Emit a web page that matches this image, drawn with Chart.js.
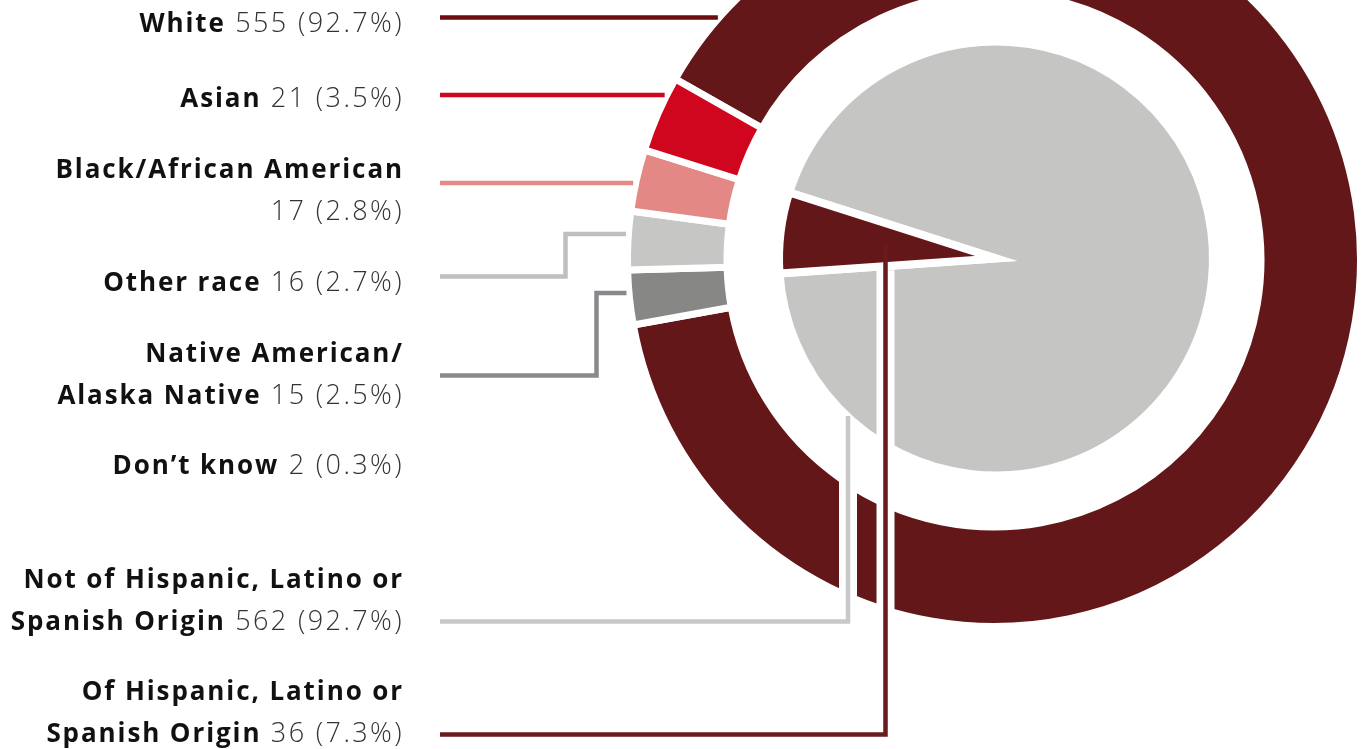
<!DOCTYPE html>
<html>
<head>
<meta charset="utf-8">
<title>Race and ethnicity</title>
<script src="https://cdn.jsdelivr.net/npm/chart.js"></script>
<style>
  body { margin: 0; background: #fff; overflow: hidden; }
  #wrap { position: relative; width: 1365px; height: 749px; }
  canvas { position: absolute; left: 0; top: 0; }
  .lbl {
    position: absolute;
    right: 961px;
    text-align: right;
    white-space: pre-line;
    font-family: "Open Sans", sans-serif;
    font-size: 27px;
    line-height: 41px;
    letter-spacing: 2.4px;
    font-weight: 300;
    color: #333;
  }
  .lbl b { font-size: 26px; font-weight: 700; color: #111; letter-spacing: 1.9px; }
</style>
</head>
<body>
<div id="wrap">
  <canvas id="ringChart" width="1365" height="749"></canvas>
  <canvas id="pieChart" width="1365" height="749"></canvas>
  <div id="labels"></div>
</div>
<script>
// race -> outer ring
const raceNames = ["White", "Asian", "Black/African American\n", "Other race", "Native American/\nAlaska Native", "Don\u2019t know"];
const raceCounts = [555, 21, 17, 16, 15, 2];
const racePct = ["92.7%", "3.5%", "2.8%", "2.7%", "2.5%", "0.3%"];
const raceColors = ["#631719", "#d0061f", "#e48886", "#c6c6c5", "#878786", "#ffffff"];
const raceLineColors = ["#6b0d11", "#d0061f", "#e58a88", "#bdbfc1", "#88898c", null];
// ring goes clockwise from White and comes back up the left side
const ringOrder = [0, 4, 3, 2, 1];

// ethnicity -> inner pie
const originNames = ["Not of Hispanic, Latino or\nSpanish Origin", "Of Hispanic, Latino or\nSpanish Origin"];
const originCounts = [562, 36];
const originPct = ["92.7%", "7.3%"];
const originColors = ["#c5c5c4", "#631719"];
const originLineColors = ["#c8c8c8", "#6b1a1d"];

// layout
const W = 1365, H = 749;
const RING_C = [994, 260], PIE_C = [996, 258.5];
const RING_BW = 7, PIE_BW = 8;
const LINE_X0 = 440, LINE_W = 4.5;
const raceTops = [1, 76, 147, 260, 331, 443];
const originTops = [557, 669];

function padFor(c) {
  return { left: 2 * c[0] - W, right: 0, top: 0, bottom: H - 2 * c[1] };
}

const labelsBox = document.getElementById('labels');
function addLabel(name, count, pct, top) {
  const d = document.createElement('div');
  d.className = 'lbl';
  d.style.top = top + 'px';
  const b = document.createElement('b');
  b.textContent = name.replace(/\n$/, '');
  d.appendChild(b);
  d.appendChild(document.createTextNode((name.endsWith('\n') ? '\n' : ' ') + count + ' (' + pct + ')'));
  labelsBox.appendChild(d);
}
raceNames.forEach((n, i) => addLabel(n, raceCounts[i], racePct[i], raceTops[i]));
originNames.forEach((n, i) => addLabel(n, originCounts[i], originPct[i], originTops[i]));

const ringChart = new Chart(document.getElementById('ringChart'), {
  type: 'doughnut',
  data: {
    labels: ringOrder.map(i => raceNames[i]),
    datasets: [{
      data: ringOrder.map(i => raceCounts[i]),
      backgroundColor: ringOrder.map(i => raceColors[i]),
      borderColor: '#ffffff',
      borderWidth: RING_BW,
      clip: false
    }]
  },
  options: {
    responsive: false,
    animation: false,
    events: [],
    rotation: -60.4,
    radius: 363 + RING_BW / 2,
    cutout: ((270.5 - RING_BW / 2) / (363 + RING_BW / 2) * 100) + '%',
    layout: { padding: padFor(RING_C) },
    plugins: { legend: { display: false }, tooltip: { enabled: false } }
  }
});

function ringEdgeX(arc, y, gap) {
  const r = arc.outerRadius - RING_BW / 2;
  return arc.x - Math.sqrt(r * r - (y - arc.y) * (y - arc.y)) - gap;
}

function strokePath(ctx, pts, color, width) {
  ctx.beginPath();
  ctx.moveTo(pts[0][0], pts[0][1]);
  for (let k = 1; k < pts.length; k++) ctx.lineTo(pts[k][0], pts[k][1]);
  ctx.strokeStyle = color;
  ctx.lineWidth = width;
  ctx.lineJoin = 'miter';
  ctx.lineCap = 'butt';
  ctx.stroke();
}

const leaderLines = {
  id: 'leaderLines',
  afterDatasetsDraw(chart) {
    const ctx = chart.ctx;
    const ringArcs = ringChart.getDatasetMeta(0).data;
    const arcOf = i => ringArcs[ringOrder.indexOf(i)];
    const pieArcs = chart.getDatasetMeta(0).data;
    ctx.save();

    // race lines: [race index, points before the ring]
    const race = [
      [0, [[LINE_X0, 17.5]]],
      [1, [[LINE_X0, 95]]],
      [2, [[LINE_X0, 183]]],
      [3, [[LINE_X0, 276.5], [565.5, 276.5], [565.5, 234]]],
      [4, [[LINE_X0, 375.5], [596.5, 375.5], [596.5, 293]]]
    ];
    race.forEach(([i, pts]) => {
      const y = pts[pts.length - 1][1];
      const end = [ringEdgeX(arcOf(i), y, 6), y];
      strokePath(ctx, pts.concat([end]), raceLineColors[i], LINE_W);
    });

    // ethnicity lines drop from the pie through the ring
    const notArc = pieArcs[0], hisArc = pieArcs[1];
    const pr = notArc.outerRadius - PIE_BW / 2;
    const xNot = 848, xHis = 885.5;
    const yNotEdge = notArc.y + Math.sqrt(pr * pr - (xNot + 9 - notArc.x) ** 2);
    const mid = (hisArc.startAngle + hisArc.endAngle) / 2;
    const yHisMid = hisArc.y + (xHis - hisArc.x) * Math.tan(mid);
    const yHisLow = hisArc.y + (xHis - hisArc.x) * Math.tan(hisArc.startAngle) + PIE_BW / 2;

    strokePath(ctx, [[xNot, yNotEdge], [xNot, 621.5 + 9]], '#ffffff', 18);
    strokePath(ctx, [[xHis, yHisLow], [xHis, 734.5 + 9]], '#ffffff', 18);
    strokePath(ctx, [[LINE_X0, 621.5], [xNot, 621.5], [xNot, yNotEdge - 4]], originLineColors[0], LINE_W);
    strokePath(ctx, [[LINE_X0, 734.5], [xHis, 734.5], [xHis, yHisMid]], originLineColors[1], LINE_W);
    ctx.restore();
  }
};

new Chart(document.getElementById('pieChart'), {
  type: 'pie',
  data: {
    labels: originNames,
    datasets: [{
      data: originCounts,
      backgroundColor: originColors,
      borderColor: '#ffffff',
      borderWidth: PIE_BW,
      borderJoinStyle: 'miter',
      clip: false
    }]
  },
  options: {
    responsive: false,
    animation: false,
    events: [],
    rotation: -72.3,
    radius: 213 + PIE_BW / 2,
    layout: { padding: padFor(PIE_C) },
    plugins: { legend: { display: false }, tooltip: { enabled: false } }
  },
  plugins: [leaderLines]
});
</script>
</body>
</html>
